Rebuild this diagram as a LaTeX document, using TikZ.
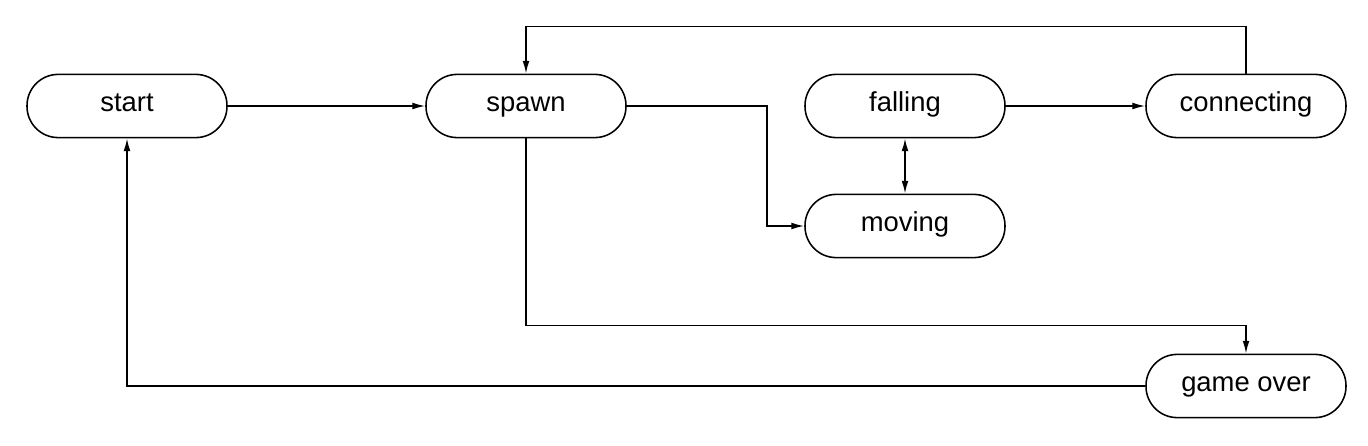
\documentclass[tikz,border=0pt]{standalone}
\usepackage{fontspec}
\setmainfont{Liberation Sans}
\usetikzlibrary{arrows.meta, positioning, calc}
\definecolor{mainedge}{HTML}{000000}

\begin{document}
\begin{tikzpicture}[
    >={Latex[length=0.32cm, width=0.17cm]},
    every node/.style={font=\fontsize{19.5}{22}\selectfont},
    state/.style={
        rectangle, rounded corners=0.78cm, draw=mainedge, line width=1.1pt,
        minimum width=5.0cm, minimum height=1.58cm, align=center, inner sep=0pt,
        text height=2.0ex, text depth=0.45ex
    },
    mainline/.style={->, line width=1.1pt, color=mainedge},
]

%% fixes the page to the reference proportions (1368 x 446 px, 40px = 1cm)
\useasboundingbox (0,0) rectangle (34.2,-11.15);

%% ============ STATES ============
\node[state] (start)      at (3.175, -2.65)  {start};
\node[state] (spawn)      at (13.15, -2.65)  {spawn};
\node[state] (falling)    at (22.625, -2.65) {falling};
\node[state] (connecting) at (31.15, -2.65)  {connecting};
\node[state] (moving)     at (22.625, -5.65) {moving};
\node[state] (gameover)   at (31.15, -9.65)  {game over};

%% ============ TRANSITIONS ============
\draw[mainline] (start) -- (spawn);
\draw[mainline] (spawn.east) -- ++(3.5, 0) |- (moving.west);
\draw[mainline] (falling) -- (connecting);
\draw[mainline, <->] (falling) -- (moving);

% connecting -> spawn: loop over the top
\draw[mainline] (connecting.north) -- ++(0, 1.175) -| (spawn.north);

% spawn -> game over: under the middle row
\draw[mainline] (spawn.south) -- ++(0, -4.675) -| (gameover.north);

% game over -> start: along the bottom
\draw[mainline] (gameover.west) -| (start.south);

\end{tikzpicture}
\end{document}
